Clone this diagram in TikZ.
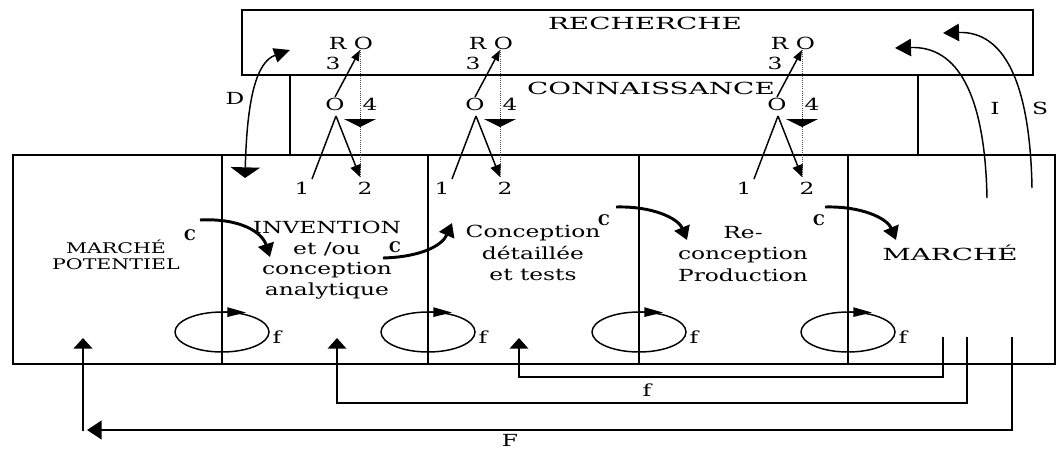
\documentclass[tikz,border=0pt]{standalone}
\usepackage{fontspec}
\setmainfont{DejaVu Serif}[FakeStretch=1.4]
\newfontfamily\widefont{DejaVu Serif}[FakeStretch=1.67]
\newfontfamily\plainfont{DejaVu Serif}
\usetikzlibrary{arrows.meta}

\newcommand*{\boxtop}{155}
\newcommand*{\boxbot}{364}
\newcommand*{\loopy}{332}

\begin{document}
\begin{tikzpicture}
[
	x=0.75pt,y=-0.75pt,
	line width=1.1pt,
	lbl/.style={inner sep=0pt,font=\fontsize{12.5}{15}\selectfont},
	toplbl/.style={inner sep=0pt,font=\widefont\fontsize{12.5}{15}\selectfont},
	boxtxt/.style={inner sep=0pt,align=center,font=\fontsize{12.5}{15.5}\selectfont},
	crescent/.style={inner sep=0pt,font=\plainfont\bfseries\fontsize{11}{11}\selectfont},
	chain/.style={line width=2.2pt,-{Triangle[width=12pt,length=10pt]}},
	kline/.style={-{Triangle[width=6pt,length=8pt]}},
	fdown/.style={-{Triangle[width=8pt,length=9pt]}},
	bigdown/.style={-{Triangle[width=24pt,length=6pt]}},
	curved/.style={-{Triangle[width=13pt,length=12pt]}},
	looparr/.style={-{Triangle[width=7pt,length=14pt]}},
	back/.style={-{Triangle[width=14pt,length=8pt]}},
	dotline/.style={line width=0.6pt,densely dotted,black!70}
]

	\useasboundingbox (0,0) rectangle (1056,450);

	% boxes
	\draw (242,10) rectangle (1033,75);
	\draw (13,\boxtop) rectangle (1055,\boxbot);
	\draw (290,75) -- (290,\boxtop);
	\draw (918,75) -- (918,\boxtop);
	\foreach \dx in {222,428,639,848}
		\draw (\dx,\boxtop) -- (\dx,\boxbot);

	\node[toplbl] (rech) at (645,23) {RECHERCHE};
	\node[toplbl] (conn) at (651,88) {CONNAISSANCE};

	% phases
	\node[boxtxt,font=\fontsize{11}{12}\selectfont] (mpot) at (116,255) {MARCHÉ\\POTENTIEL};
	\node[boxtxt] (inv) at (327,260) {INVENTION\\et /ou\\conception\\analytique};
	\node[boxtxt,font=\fontsize{12.5}{16}\selectfont] (det) at (533,253) {Conception\\détaillée\\et tests};
	\node[boxtxt,font=\fontsize{12.5}{16}\selectfont] (prod) at (743,254) {Re-\\conception\\Production};
	\node[toplbl] (mkt) at (950,253) {MARCHÉ};

	% links to research
	\foreach \gx/\n in {335/a,475/b,777/c}
	{
		\node[lbl] (ro\n) at (\gx+16,43) {R O};
		\node[lbl] (three\n) at (\gx-2,63) {3};
		\node[lbl] (o\n) at (\gx,104) {O};
		\node[lbl] (four\n) at (\gx+35,104) {4};
		\node[lbl] (one\n) at (\gx-33,188) {1};
		\node[lbl] (two\n) at (\gx+30,188) {2};
		\coordinate (top\n) at (\gx+25,50);
		\coordinate (tip\n) at (\gx+25,177);
		\coordinate (apex\n) at (\gx+1,116);
		\coordinate (low\n) at (\gx-23,179);
		\coordinate (fs\n) at (\gx+25,114);
		\coordinate (fe\n) at (\gx+25,127);
		\draw[kline] (o\n.north) -- (top\n);
		\draw[dotline] (top\n) -- (tip\n);
		\draw[dotline,draw=black,bigdown] (fs\n) -- (fe\n);
		\draw (low\n) -- (apex\n);
		\draw[fdown] (apex\n) -- (tip\n);
	}

	% D, I, S
	\coordinate (dlow) at (245,178);
	\coordinate (dhigh) at (290,50);
	\draw[{Triangle[width=22pt,length=8pt]}-{Triangle[width=11pt,length=12pt]}] (dlow) .. controls (247,100) and (256,62) .. (dhigh);
	\node[lbl] (dlbl) at (235,98) {D};

	\coordinate (ilow) at (987,198);
	\coordinate (ihigh) at (895,48);
	\draw[curved] (ilow) .. controls (985,95) and (958,46) .. (ihigh);
	\node[lbl] (ilbl) at (995,108) {I};

	\coordinate (slow) at (1032,188);
	\coordinate (shigh) at (943,33);
	\draw[curved] (slow) .. controls (1030,80) and (1003,31) .. (shigh);
	\node[lbl] (slbl) at (1040,108) {S};

	% central chain
	\foreach \cx/\cy/\n in {190/235/a,395/247/b,604/220/c,819/220/d}
		\node[crescent] (cr\n) at (\cx,\cy) {C};
	\coordinate (caa) at (200,220);
	\coordinate (cab) at (270,257);
	\draw[chain] (caa) .. controls (240,218) and (262,232) .. (cab);
	\coordinate (cba) at (383,258);
	\coordinate (cbb) at (452,223);
	\draw[chain] (cba) .. controls (420,257) and (442,246) .. (cbb);
	\coordinate (cca) at (616,207);
	\coordinate (ccb) at (687,240);
	\draw[chain] (cca) .. controls (652,206) and (678,218) .. (ccb);
	\coordinate (cda) at (825,207);
	\coordinate (cdb) at (896,240);
	\draw[chain] (cda) .. controls (861,206) and (887,218) .. (cdb);

	% loops f
	\foreach \dx/\n in {222/a,428/b,639/c,848/d}
	{
		\draw (\dx,\loopy) ellipse [x radius=47, y radius=20];
		\coordinate (ls\n) at (\dx,312);
		\coordinate (le\n) at (\dx+24,312.5);
		\draw[looparr] (ls\n) -- (le\n);
		\node[lbl] (f\n) at (\dx+55,337) {f};
	}

	% feedback
	\coordinate (fa0) at (943,337);
	\coordinate (fa1) at (943,377);
	\coordinate (fa2) at (519,338);
	\draw[back] (fa0) -- (fa1) -| (fa2);
	\coordinate (fb0) at (967,337);
	\coordinate (fb1) at (967,403);
	\coordinate (fb2) at (337,338);
	\draw[back] (fb0) -- (fb1) -| (fb2);
	\node[lbl] (flbl) at (647,390) {f};

	\coordinate (Fa) at (1012,337);
	\coordinate (Fb) at (1012,430);
	\coordinate (Fc) at (87,430);
	\coordinate (Fd) at (83,431);
	\coordinate (Fe) at (83,338);
	\draw[line width=1.6pt,-{Triangle[width=14pt,length=11pt]}] (Fa) -- (Fb) -- (Fc);
	\draw[line width=1.6pt,back] (Fd) -- (Fe);
	\node[lbl] (Flbl) at (510,440) {F};

\end{tikzpicture}
\end{document}
